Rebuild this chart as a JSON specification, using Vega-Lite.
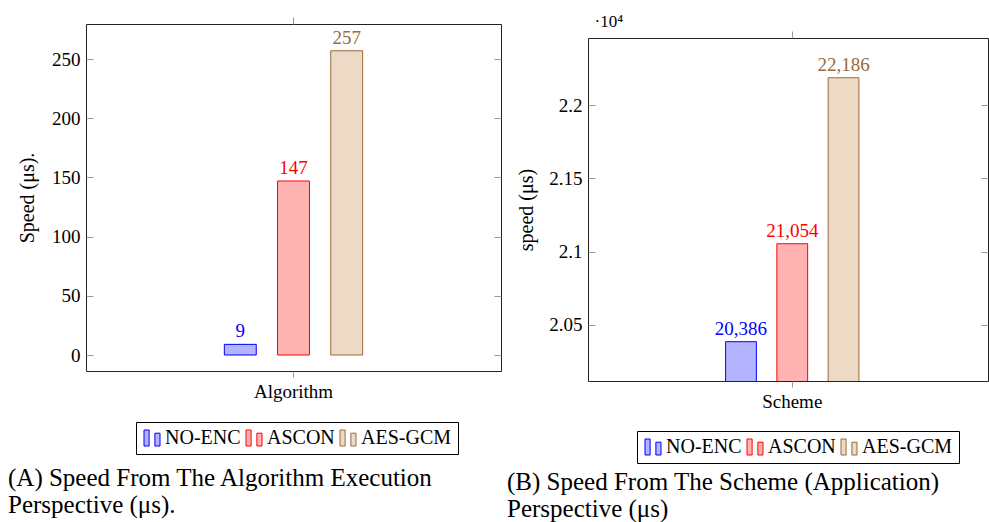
{
  "$schema": "https://vega.github.io/schema/vega-lite/v6.json",
  "background": "white",
  "padding": {"left": 7, "top": 12, "right": 0, "bottom": 0},
  "spacing": 4,
  "config": {
    "font": "Liberation Serif",
    "view": {"stroke": "#222", "strokeWidth": 1},
    "style": {
      "guide-label": {"font": "Liberation Serif", "fill": "black"},
      "guide-title": {"font": "Liberation Serif", "fill": "black", "fontWeight": "normal"},
      "group-title": {"font": "Liberation Serif", "fill": "black", "fontWeight": "normal"}
    },
    "axis": {"labelFont": "Liberation Serif", "titleFont": "Liberation Serif", "labelColor": "black", "titleColor": "black", "tickColor": "#999", "domain": false, "grid": false, "titleFontWeight": "normal"},
    "legend": {"labelFont": "Liberation Serif"}
  },
  "resolve": {
    "scale": {"x": "independent", "y": "independent", "xOffset": "independent"},
    "legend": {"fill": "independent", "stroke": "independent"}
  },
  "hconcat": [
    {
      "width": 415,
      "height": 347,
      "title": {"text": ["(A) Speed From The Algorithm Execution", "Perspective (μs)."], "orient": "bottom", "anchor": "start", "frame": "group", "dx": -78, "offset": 11, "fontSize": 25, "fontWeight": "normal", "lineHeight": 27, "color": "black", "font": "Liberation Serif"},
      "data": {"values": [
        {"group": "Algorithm", "scheme": "NO-ENC", "speed": 9},
        {"group": "Algorithm", "scheme": "ASCON", "speed": 147},
        {"group": "Algorithm", "scheme": "AES-GCM", "speed": 257}
      ]},
      "resolve": {"axis": {"x": "independent", "y": "independent"}},
      "layer": [
        {
          "mark": {"type": "bar", "clip": true, "strokeWidth": 1},
          "encoding": {
            "x": {"field": "group", "type": "nominal", "scale": {"paddingInner": 0, "paddingOuter": 1.409, "align": 0.5}, "axis": {"orient": "bottom", "title": null, "labelAngle": 0, "tickSize": 6, "labelPadding": 5, "labelFontSize": 19, "labelFont": "Liberation Serif"}},
            "xOffset": {"field": "scheme", "type": "nominal", "sort": ["NO-ENC", "ASCON", "AES-GCM"], "scale": {"paddingInner": 0.4, "paddingOuter": 0}},
            "y": {"field": "speed", "type": "quantitative", "scale": {"domain": [-13.5, 279.6], "nice": false, "zero": false}, "axis": {"orient": "left", "values": [0, 50, 100, 150, 200, 250], "offset": -7, "tickSize": 7, "labelPadding": 6, "labelFontSize": 19, "labelFont": "Liberation Serif", "title": "Speed (μs).", "titleFont": "Liberation Serif", "titleFontSize": 20, "titlePadding": 14}},
            "fill": {"field": "scheme", "type": "nominal", "scale": {"domain": ["NO-ENC", "ASCON", "AES-GCM"], "range": ["#b3b3ff", "#ffb3b3", "#ecd9c6"]}, "legend": {"title": null, "orient": "none", "legendX": 50, "legendY": 398, "direction": "horizontal", "symbolType": "M-1,-1H-0.36V1H-1Z M0.36,-0.6H1V1H0.36Z", "symbolSize": 256, "symbolStrokeWidth": 1, "labelFontSize": 20, "labelFont": "Liberation Serif", "labelColor": "black", "strokeColor": "black", "padding": 6, "columnPadding": 3, "labelOffset": 3}},
            "stroke": {"field": "scheme", "type": "nominal", "scale": {"domain": ["NO-ENC", "ASCON", "AES-GCM"], "range": ["#0000ff", "#ff0000", "#9a6a3a"]}, "legend": {"title": null, "orient": "none", "legendX": 50, "legendY": 398, "direction": "horizontal", "symbolType": "M-1,-1H-0.36V1H-1Z M0.36,-0.6H1V1H0.36Z", "symbolSize": 256, "symbolStrokeWidth": 1, "labelFontSize": 20, "labelFont": "Liberation Serif", "labelColor": "black", "strokeColor": "black", "padding": 6, "columnPadding": 3, "labelOffset": 3}}
          }
        },
        {
          "mark": {"type": "text", "baseline": "alphabetic", "dy": -7, "fontSize": 19, "font": "Liberation Serif"},
          "encoding": {
            "x": {"field": "group", "type": "nominal", "axis": {"orient": "top", "labels": false, "title": null, "tickSize": 7}},
            "xOffset": {"field": "scheme", "type": "nominal", "sort": ["NO-ENC", "ASCON", "AES-GCM"]},
            "y": {"field": "speed", "type": "quantitative", "axis": {"orient": "right", "labels": false, "title": null, "offset": -7, "tickSize": 7, "values": [0, 50, 100, 150, 200, 250]}},
            "text": {"field": "speed", "type": "quantitative", "format": ","},
            "color": {"field": "scheme", "type": "nominal", "scale": {"domain": ["NO-ENC", "ASCON", "AES-GCM"], "range": ["#0000ff", "#ff0000", "#9a6a3a"]}, "legend": null}
          }
        }
      ]
    },
    {
      "spacing": 0,
      "resolve": {"legend": {"fill": "independent", "stroke": "independent"}},
      "vconcat": [
        {
          "width": 1,
          "height": 5,
          "view": {"stroke": null},
          "data": {"values": [{"exponent": "·10⁴"}]},
          "mark": {"type": "text", "align": "left", "baseline": "alphabetic", "dx": 6, "fontSize": 17, "font": "Liberation Serif", "color": "black"},
          "encoding": {"text": {"field": "exponent", "type": "nominal"}}
        },
        {
          "width": 400,
          "height": 343,
          "title": {"text": ["(B) Speed From The Scheme (Application)", "Perspective (μs)"], "orient": "bottom", "anchor": "start", "frame": "group", "dx": -81, "offset": 6, "fontSize": 25, "fontWeight": "normal", "lineHeight": 27, "color": "black", "font": "Liberation Serif"},
          "data": {"values": [
            {"group": "Scheme", "scheme": "NO-ENC", "speed": 20386},
            {"group": "Scheme", "scheme": "ASCON", "speed": 21054},
            {"group": "Scheme", "scheme": "AES-GCM", "speed": 22186}
          ]},
          "resolve": {"axis": {"x": "independent", "y": "independent"}},
          "layer": [
            {
              "mark": {"type": "bar", "clip": true, "strokeWidth": 1},
              "encoding": {
                "x": {"field": "group", "type": "nominal", "scale": {"paddingInner": 0, "paddingOuter": 1.374, "align": 0.516}, "axis": {"orient": "bottom", "title": null, "labelAngle": 0, "tickSize": 6, "labelPadding": 5, "labelFontSize": 19, "labelFont": "Liberation Serif"}},
                "xOffset": {"field": "scheme", "type": "nominal", "sort": ["NO-ENC", "ASCON", "AES-GCM"], "scale": {"paddingInner": 0.4, "paddingOuter": 0}},
                "y": {"field": "speed", "type": "quantitative", "scale": {"domain": [20118, 22457], "nice": false, "zero": false}, "axis": {"orient": "left", "values": [20500, 21000, 21500, 22000], "labelExpr": "format(datum.value / 10000, '.3~f')", "offset": -7, "tickSize": 7, "labelPadding": 6, "labelFontSize": 19, "labelFont": "Liberation Serif", "title": "speed (μs)", "titleFont": "Liberation Serif", "titleFontSize": 20, "titlePadding": 12}},
                "fill": {"field": "scheme", "type": "nominal", "scale": {"domain": ["NO-ENC", "ASCON", "AES-GCM"], "range": ["#b3b3ff", "#ffb3b3", "#ecd9c6"]}, "legend": {"title": null, "orient": "none", "legendX": 49, "legendY": 393, "direction": "horizontal", "symbolType": "M-1,-1H-0.36V1H-1Z M0.36,-0.6H1V1H0.36Z", "symbolSize": 256, "symbolStrokeWidth": 1, "labelFontSize": 20, "labelFont": "Liberation Serif", "labelColor": "black", "strokeColor": "black", "padding": 6, "columnPadding": 3, "labelOffset": 3}},
                "stroke": {"field": "scheme", "type": "nominal", "scale": {"domain": ["NO-ENC", "ASCON", "AES-GCM"], "range": ["#0000ff", "#ff0000", "#9a6a3a"]}, "legend": {"title": null, "orient": "none", "legendX": 49, "legendY": 393, "direction": "horizontal", "symbolType": "M-1,-1H-0.36V1H-1Z M0.36,-0.6H1V1H0.36Z", "symbolSize": 256, "symbolStrokeWidth": 1, "labelFontSize": 20, "labelFont": "Liberation Serif", "labelColor": "black", "strokeColor": "black", "padding": 6, "columnPadding": 3, "labelOffset": 3}}
              }
            },
            {
              "mark": {"type": "text", "baseline": "alphabetic", "dy": -7, "fontSize": 19, "font": "Liberation Serif"},
              "encoding": {
                "x": {"field": "group", "type": "nominal", "axis": {"orient": "top", "labels": false, "title": null, "tickSize": 7}},
                "xOffset": {"field": "scheme", "type": "nominal", "sort": ["NO-ENC", "ASCON", "AES-GCM"]},
                "y": {"field": "speed", "type": "quantitative", "axis": {"orient": "right", "labels": false, "title": null, "offset": -7, "tickSize": 7, "values": [20500, 21000, 21500, 22000]}},
                "text": {"field": "speed", "type": "quantitative", "format": ","},
                "color": {"field": "scheme", "type": "nominal", "scale": {"domain": ["NO-ENC", "ASCON", "AES-GCM"], "range": ["#0000ff", "#ff0000", "#9a6a3a"]}, "legend": null}
              }
            }
          ]
        }
      ]
    }
  ]
}
